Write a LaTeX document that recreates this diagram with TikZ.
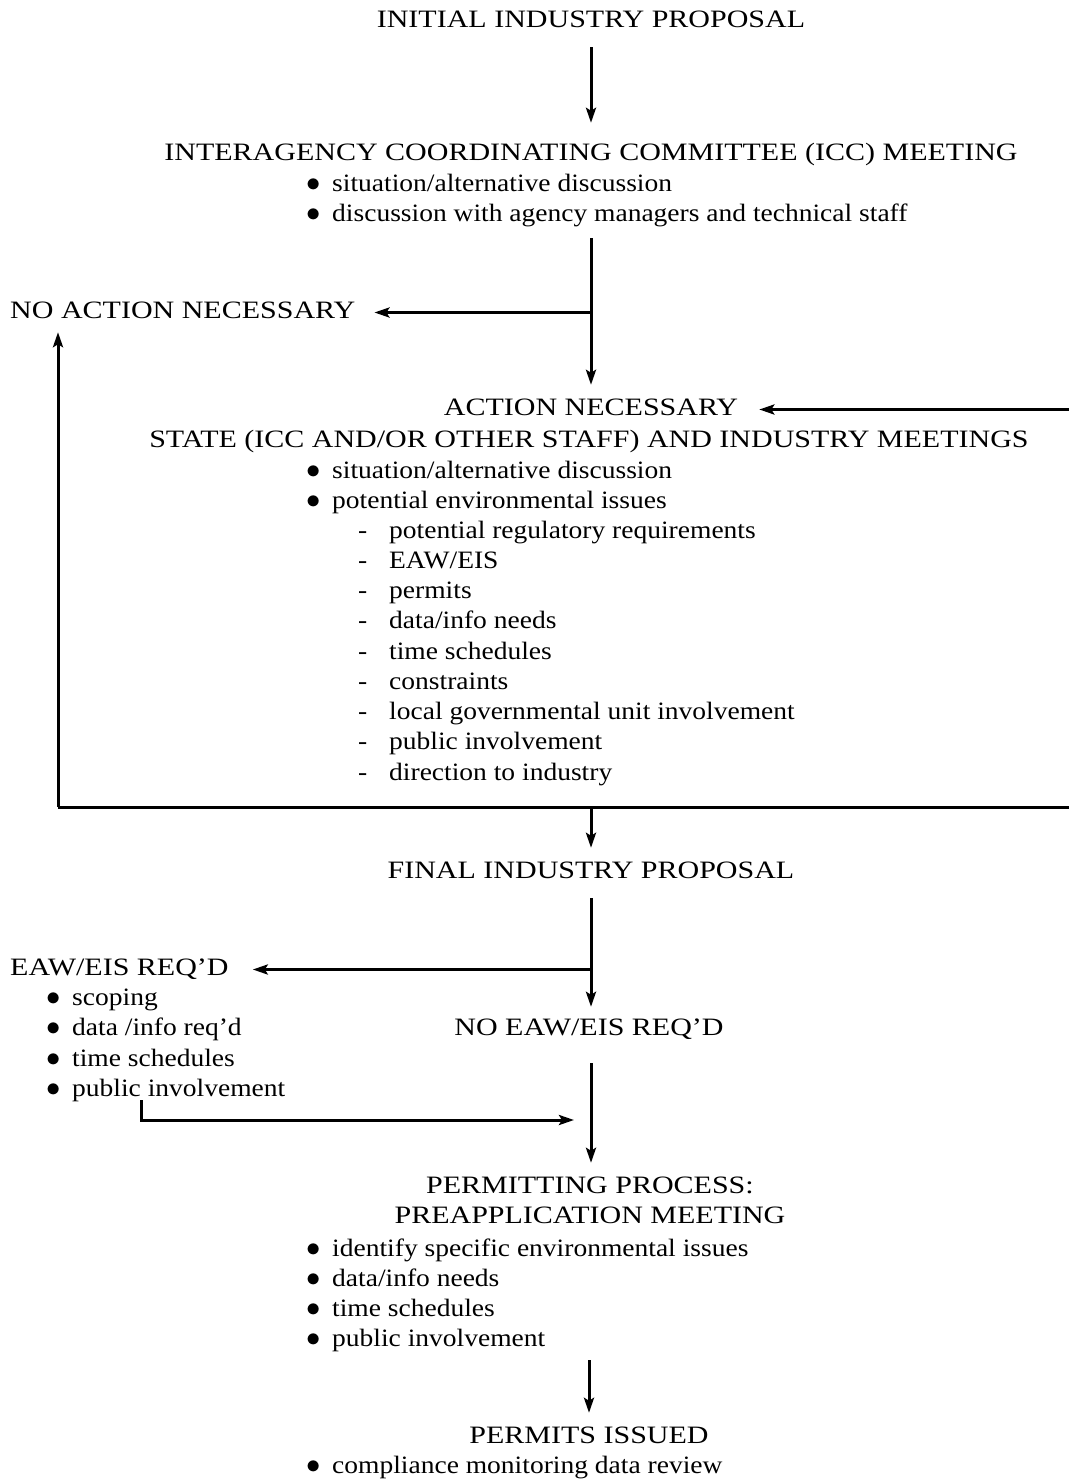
\documentclass[tikz,border=0pt]{standalone}
\usepackage{fontspec}
\setmainfont{Liberation Serif}[FakeStretch=1.10]
\newfontfamily\capsfont{Liberation Serif}[FakeStretch=1.20, Ligatures=TeX]
\usetikzlibrary{arrows.meta}

\newcommand{\bul}{\makebox[24pt][l]{\hspace{-2pt}\scalebox{1.15}{$\bullet$}}}
\newcommand{\dsh}{\makebox[31pt][l]{-}}

\tikzset{
    txt/.style={inner sep=0pt, text height=17pt, text depth=6pt, anchor=base,
                font=\capsfont\fontsize{25}{30}\selectfont},
    itm/.style={txt, anchor=base west, font=\fontsize{25}{30}\selectfont},
    arr/.style={line width=3pt, -{Stealth[length=15pt,width=10pt,inset=3pt]}},
}

\begin{document}
\begin{tikzpicture}[x=1pt, y=-1pt]
    \useasboundingbox (0,0) rectangle (1068,1480);

    % first stage
    \node[txt] (init) at (591,28) {INITIAL INDUSTRY PROPOSAL};
    \node[txt] (icc) at (591,160) {INTERAGENCY COORDINATING COMMITTEE (ICC) MEETING};
    \node[itm] (icc1) at (308,191) {\bul situation/alternative discussion};
    \node[itm] (icc2) at (308,221) {\bul discussion with agency managers and technical staff};

    \node[txt, anchor=base west] (noact) at (10,318) {NO ACTION NECESSARY};
    \node[txt] (act) at (591,415) {ACTION NECESSARY};
    \node[txt] (state) at (589,447) {STATE (ICC AND/OR OTHER STAFF) AND INDUSTRY MEETINGS};
    \node[itm] (st1) at (308,478) {\bul situation/alternative discussion};
    \node[itm] (st2) at (308,508) {\bul potential environmental issues};

    \foreach \t [count=\i from 0] in {potential regulatory requirements, EAW/EIS, permits,
        data/info needs, time schedules, constraints, local governmental unit involvement,
        public involvement, direction to industry} {
        \node[itm] (d\i) at (358,{538+30.25*\i}) {\dsh\t};
    }

    % second stage
    \node[txt] (final) at (591,878) {FINAL INDUSTRY PROPOSAL};
    \node[txt, anchor=base west] (eaw) at (10,975) {EAW/EIS REQ'D};
    \node[itm] (eaw1) at (48,1005) {\bul scoping};
    \node[itm] (eaw2) at (48,1035) {\bul data /info req'd};
    \node[itm] (eaw3) at (48,1066) {\bul time schedules};
    \node[itm] (eaw4) at (48,1096) {\bul public involvement};
    \node[txt] (noeaw) at (589,1035) {NO EAW/EIS REQ'D};

    \node[txt] (perm) at (590,1193) {PERMITTING PROCESS:};
    \node[txt] (preapp) at (590,1223) {PREAPPLICATION MEETING};
    \node[itm] (pm1) at (308,1256) {\bul identify specific environmental issues};
    \node[itm] (pm2) at (308,1286) {\bul data/info needs};
    \node[itm] (pm3) at (308,1316) {\bul time schedules};
    \node[itm] (pm4) at (308,1346) {\bul public involvement};

    \node[txt] (issued) at (589,1443) {PERMITS ISSUED};
    \node[itm] (iss1) at (308,1473) {\bul compliance monitoring data review};

    % loop round the meetings block
    \coordinate (loopL) at (58,807);
    \coordinate (loopR) at (1071,807);
    \coordinate (eawtail) at (141,1100);
    \coordinate (joinP) at (591,1120);

    % connectors
    \draw[arr, shorten <=13pt, shorten >=20pt] (init.south) -- (icc.north -| init);
    \draw[arr, shorten <=11pt, shorten >=13pt] (icc2.south -| act) -- (act.north);
    \draw[arr, shorten >=19pt] (noact.east -| act) -- (noact.east);
    \draw[arr, shorten >=21pt] (loopL) -- (loopR) |- (act.east);
    \draw[arr, shorten >=8pt] (loopL) -- (loopL |- noact.south);
    \draw[arr, shorten >=13pt] (loopL -| final) -- (final.north);
    \draw[arr, shorten <=14pt, shorten >=11pt] (final.south) -- (noeaw.north -| final);
    \draw[arr, shorten >=24pt] (eaw.east -| final) -- (eaw.east);
    \draw[arr, shorten <=22pt, shorten >=13pt] (noeaw.south -| final) -- (perm.north -| final);
    \draw[arr, shorten >=17pt] (eawtail) |- (joinP);
    \draw[arr, shorten <=8pt, shorten >=13pt] (pm4.south -| issued) -- (issued.north);
\end{tikzpicture}
\end{document}
